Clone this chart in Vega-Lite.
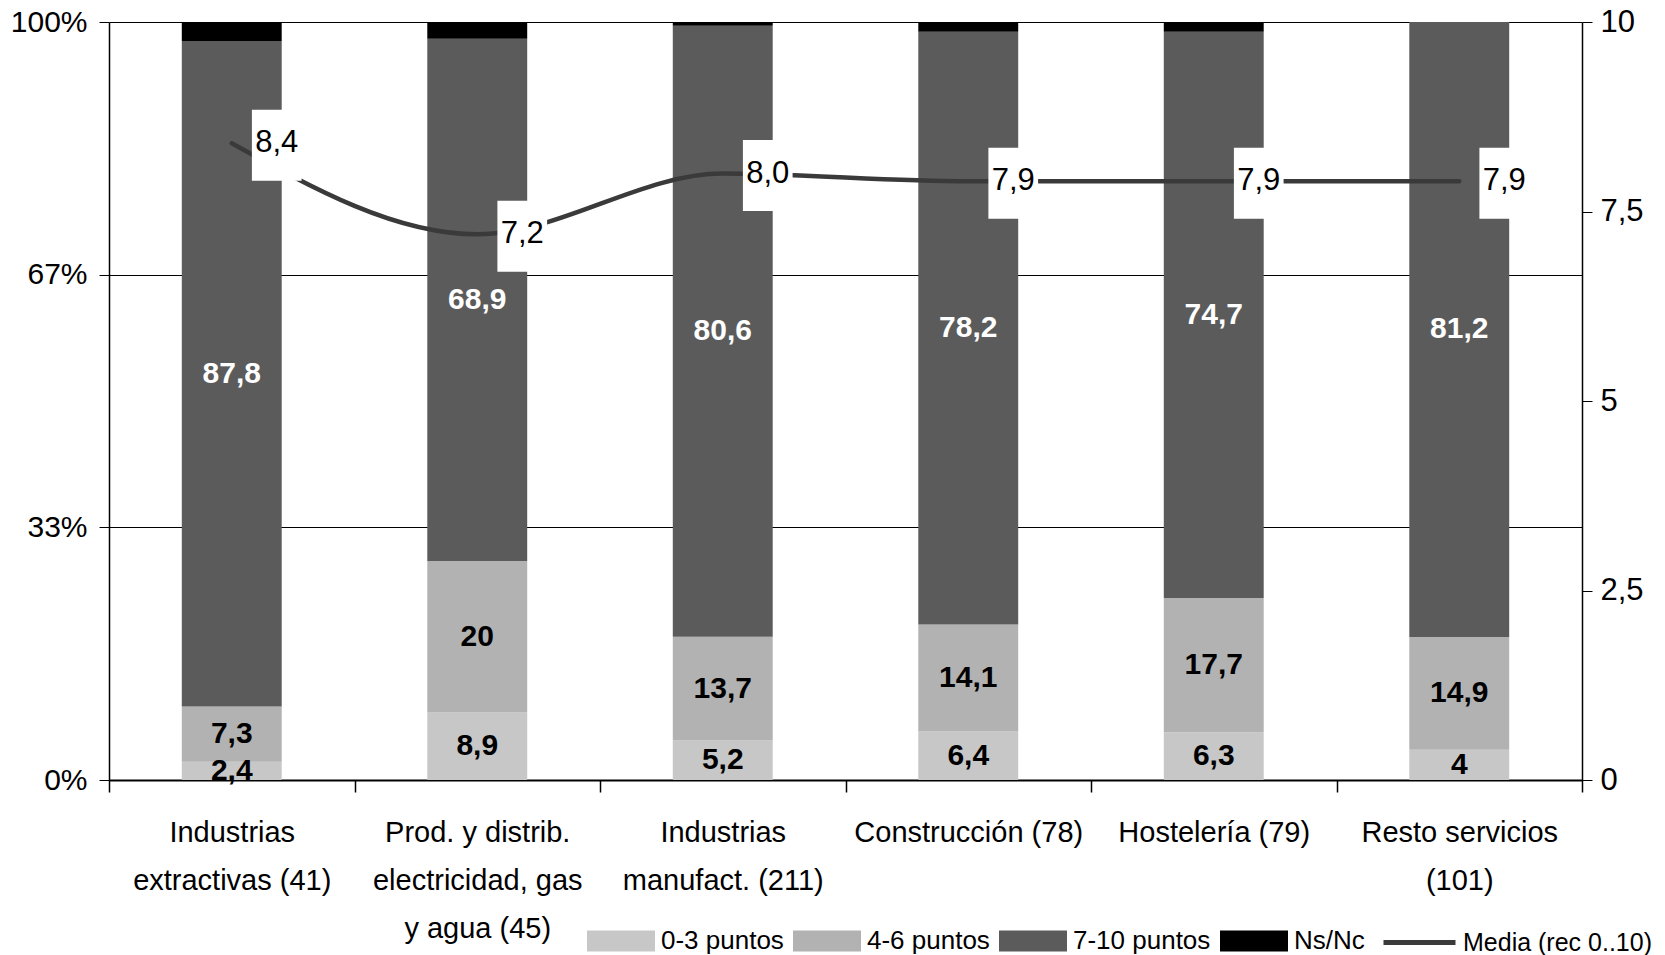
{
  "$schema": "https://vega.github.io/schema/vega-lite/v6.json",
  "width": 1473,
  "height": 758,
  "autosize": {"type": "none"},
  "padding": {"left": 109, "top": 22, "right": 83, "bottom": 175},
  "background": "white",
  "datasets": {
    "barras": [
      {"cat": "Industrias\nextractivas (41)", "serie": "0-3 puntos", "orden": 1, "valor": 2.4},
      {"cat": "Industrias\nextractivas (41)", "serie": "4-6 puntos", "orden": 2, "valor": 7.3},
      {"cat": "Industrias\nextractivas (41)", "serie": "7-10 puntos", "orden": 3, "valor": 87.8},
      {"cat": "Industrias\nextractivas (41)", "serie": "Ns/Nc", "orden": 4, "valor": 2.5},
      {"cat": "Prod. y distrib.\nelectricidad, gas\ny agua (45)", "serie": "0-3 puntos", "orden": 1, "valor": 8.9},
      {"cat": "Prod. y distrib.\nelectricidad, gas\ny agua (45)", "serie": "4-6 puntos", "orden": 2, "valor": 20},
      {"cat": "Prod. y distrib.\nelectricidad, gas\ny agua (45)", "serie": "7-10 puntos", "orden": 3, "valor": 68.9},
      {"cat": "Prod. y distrib.\nelectricidad, gas\ny agua (45)", "serie": "Ns/Nc", "orden": 4, "valor": 2.2},
      {"cat": "Industrias\nmanufact. (211)", "serie": "0-3 puntos", "orden": 1, "valor": 5.2},
      {"cat": "Industrias\nmanufact. (211)", "serie": "4-6 puntos", "orden": 2, "valor": 13.7},
      {"cat": "Industrias\nmanufact. (211)", "serie": "7-10 puntos", "orden": 3, "valor": 80.6},
      {"cat": "Industrias\nmanufact. (211)", "serie": "Ns/Nc", "orden": 4, "valor": 0.5},
      {"cat": "Construcción (78)", "serie": "0-3 puntos", "orden": 1, "valor": 6.4},
      {"cat": "Construcción (78)", "serie": "4-6 puntos", "orden": 2, "valor": 14.1},
      {"cat": "Construcción (78)", "serie": "7-10 puntos", "orden": 3, "valor": 78.2},
      {"cat": "Construcción (78)", "serie": "Ns/Nc", "orden": 4, "valor": 1.3},
      {"cat": "Hostelería (79)", "serie": "0-3 puntos", "orden": 1, "valor": 6.3},
      {"cat": "Hostelería (79)", "serie": "4-6 puntos", "orden": 2, "valor": 17.7},
      {"cat": "Hostelería (79)", "serie": "7-10 puntos", "orden": 3, "valor": 74.7},
      {"cat": "Hostelería (79)", "serie": "Ns/Nc", "orden": 4, "valor": 1.3},
      {"cat": "Resto servicios\n(101)", "serie": "0-3 puntos", "orden": 1, "valor": 4},
      {"cat": "Resto servicios\n(101)", "serie": "4-6 puntos", "orden": 2, "valor": 14.9},
      {"cat": "Resto servicios\n(101)", "serie": "7-10 puntos", "orden": 3, "valor": 81.2},
      {"cat": "Resto servicios\n(101)", "serie": "Ns/Nc", "orden": 4, "valor": 0}
    ],
    "media": [
      {"cat": "Industrias\nextractivas (41)", "media": 8.4},
      {"cat": "Prod. y distrib.\nelectricidad, gas\ny agua (45)", "media": 7.2},
      {"cat": "Industrias\nmanufact. (211)", "media": 8.0},
      {"cat": "Construcción (78)", "media": 7.9},
      {"cat": "Hostelería (79)", "media": 7.9},
      {"cat": "Resto servicios\n(101)", "media": 7.9}
    ]
  },
  "config": {
    "view": {"stroke": null},
    "font": "Liberation Sans",
    "locale": {"number": {"decimal": ",", "thousands": ".", "grouping": [3], "currency": ["", " €"]}},
    "axis": {"domainColor": "black", "tickColor": "black", "labelColor": "black", "title": null}
  },
  "layer": [
    {
      "data": {"name": "barras"},
      "encoding": {
        "x": {
          "field": "cat", "type": "nominal",
          "scale": {"domain": ["Industrias\nextractivas (41)", "Prod. y distrib.\nelectricidad, gas\ny agua (45)", "Industrias\nmanufact. (211)", "Construcción (78)", "Hostelería (79)", "Resto servicios\n(101)"], "paddingInner": 0, "paddingOuter": 0},
          "axis": {
            "orient": "bottom", "tickBand": "extent", "labelAngle": 0,
            "labelExpr": "split(datum.label, '\\n')",
            "labelFont": "Liberation Sans", "labelFontSize": 29, "labelLineHeight": 48, "labelLimit": 400,
            "labelBaseline": "top", "labelPadding": 26, "tickSize": 12, "domainWidth": 2, "tickWidth": 1.5
          }
        },
        "y": {
          "field": "valor", "type": "quantitative", "stack": "normalize",
          "scale": {"domain": [0, 1]},
          "axis": {
            "orient": "left", "values": [0, 0.333333, 0.666667, 1], "format": ".0%",
            "grid": true, "gridColor": "black", "gridWidth": 1, "gridOpacity": 1,
            "labelFontSize": 30, "tickSize": 10, "labelPadding": 12, "domainWidth": 1.5
          }
        },
        "order": {"field": "orden", "type": "quantitative", "sort": "ascending"}
      },
      "layer": [
        {
          "mark": {"type": "bar", "width": {"band": 0.407}},
          "encoding": {
            "fill": {
              "field": "serie", "type": "nominal",
              "scale": {"domain": ["0-3 puntos", "4-6 puntos", "7-10 puntos", "Ns/Nc"], "range": ["#c7c7c7", "#b2b2b2", "#5b5b5b", "#000000"]},
              "legend": {
                "orient": "none", "legendX": 478, "legendY": 885, "direction": "horizontal", "columns": 4,
                "title": null, "padding": 0,
                "symbolType": "M-1,-0.31L1,-0.31L1,0.31L-1,0.31Z", "symbolSize": 4624,
                "symbolStrokeWidth": 0, "symbolOpacity": 1,
                "labelFont": "Liberation Sans", "labelFontSize": 26, "labelColor": "black",
                "labelOffset": 6, "columnPadding": 9
              }
            }
          }
        },
        {
          "mark": {"type": "text", "fontWeight": "bold", "fontSize": 30, "baseline": "middle", "align": "center"},
          "encoding": {
            "y": {"field": "valor", "type": "quantitative", "stack": "normalize", "bandPosition": 0.5},
            "text": {
              "condition": {"test": "datum.serie === 'Ns/Nc'", "value": ""},
              "field": "valor", "type": "quantitative", "format": ".1~f"
            },
            "color": {
              "condition": {"test": "datum.serie === '7-10 puntos'", "value": "white"},
              "value": "black"
            }
          }
        }
      ]
    },
    {
      "data": {"name": "media"},
      "encoding": {
        "x": {
          "field": "cat", "type": "nominal",
          "scale": {"domain": ["Industrias\nextractivas (41)", "Prod. y distrib.\nelectricidad, gas\ny agua (45)", "Industrias\nmanufact. (211)", "Construcción (78)", "Hostelería (79)", "Resto servicios\n(101)"], "paddingInner": 0, "paddingOuter": 0}
        },
        "y": {
          "field": "media", "type": "quantitative",
          "scale": {"domain": [0, 10]},
          "axis": {
            "orient": "right", "values": [0, 2.5, 5, 7.5, 10], "format": ".1~f", "grid": false,
            "labelFontSize": 31, "tickSize": 10, "labelPadding": 8, "domainWidth": 1.5
          }
        }
      },
      "layer": [
        {
          "mark": {"type": "line", "interpolate": "monotone", "strokeWidth": 4.5, "strokeCap": "round"},
          "encoding": {
            "stroke": {
              "datum": "Media (rec 0..10)", "type": "nominal",
              "scale": {"range": ["#3a3a3a"]},
              "legend": {
                "orient": "none", "legendX": 1272, "legendY": 882, "title": null, "padding": 0,
                "symbolType": "stroke", "symbolSize": 5184, "symbolStrokeWidth": 5,
                "labelFont": "Liberation Sans", "labelFontSize": 25, "labelColor": "black", "labelOffset": 5, "labelLimit": 400
              }
            }
          }
        },
        {
          "mark": {"type": "point", "shape": "M-0.7,-1L0.7,-1L0.7,1L-0.7,1Z", "size": 5041, "filled": true, "fill": "white", "opacity": 1, "strokeWidth": 0, "xOffset": 45, "yOffset": 2}
        },
        {
          "mark": {"type": "text", "fontSize": 31, "align": "center", "baseline": "middle", "xOffset": 45, "color": "black"},
          "encoding": {"text": {"field": "media", "type": "quantitative", "format": ".1f"}}
        }
      ]
    }
  ],
  "resolve": {"scale": {"y": "independent"}}
}
